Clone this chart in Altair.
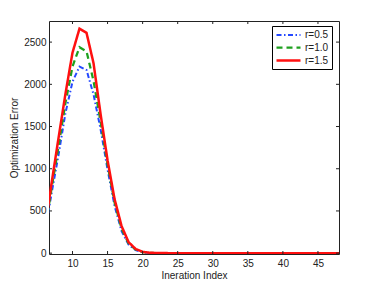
import altair as alt
import pandas as pd

iterations = list(range(6, 49))
r05 = [210, 700, 1160, 1660, 2030, 2210, 2170, 1880, 1470, 990, 560, 260, 100, 36, 10, 3, 1,
       0, 0, 0, 0, 0, 0, 0, 0, 0, 0, 0, 0, 0, 0, 0, 0, 0, 0, 0, 0, 0, 0, 0, 0, 0, 0]
r10 = [230, 760, 1260, 1780, 2210, 2440, 2390, 2040, 1560, 1050, 600, 290, 115, 42, 13, 4, 1,
       0, 0, 0, 0, 0, 0, 0, 0, 0, 0, 0, 0, 0, 0, 0, 0, 0, 0, 0, 0, 0, 0, 0, 0, 0, 0]
r15 = [250, 820, 1360, 1890, 2375, 2660, 2610, 2250, 1650, 1100, 640, 320, 130, 50, 16, 5, 2,
       1, 0, 0, 0, 0, 0, 0, 0, 0, 0, 0, 0, 0, 0, 0, 0, 0, 0, 0, 0, 0, 0, 0, 0, 0, 0]
series_names = ["r=0.5", "r=1.0", "r=1.5"]
series_colors = ["#2448ff", "#1ea01e", "#ff1010"]
series_dash = [[5, 2.5, 1.5, 2.5], [6, 4], [1, 0]]
series_width = [2, 2.5, 2.5]
x_ticks = [10, 15, 20, 25, 30, 35, 40, 45]
y_ticks = [0, 500, 1000, 1500, 2000, 2500]

rows = []
for name, vals in zip(series_names, [r05, r10, r15]):
    for it, v in zip(iterations, vals):
        rows.append({"iter": it, "err": v, "series": name})
df = pd.DataFrame(rows)

W, H = 290, 233
xscale = alt.Scale(domain=[6.65, 48], nice=False, zero=False)
yscale = alt.Scale(domain=[-10, 2750], nice=False, zero=False)
font = "Liberation Sans"

lines = alt.Chart(df).mark_line(clip=True).encode(
    x=alt.X("iter:Q", scale=xscale,
            axis=alt.Axis(values=x_ticks, format="d", ticks=False, domain=False, grid=False,
                          labelPadding=4, title="Ineration Index", titlePadding=2)),
    y=alt.Y("err:Q", scale=yscale,
            axis=alt.Axis(values=y_ticks, format="d", ticks=False, domain=False, grid=False,
                          labelPadding=3, title="Optimization Error", titlePadding=4)),
    color=alt.Color("series:N", scale=alt.Scale(domain=series_names, range=series_colors),
                    legend=alt.Legend(title=None, orient="none", legendX=223, legendY=5,
                                      fillColor="white", strokeColor="black", padding=3,
                                      symbolType="M-1,0H3.8", symbolSize=100, symbolStrokeWidth=2.5,
                                      labelFont=font, labelFontSize=10, labelColor="#222",
                                      rowPadding=1, labelOffset=17)),
    strokeDash=alt.StrokeDash("series:N", scale=alt.Scale(domain=series_names, range=series_dash),
                              legend=None),
    strokeWidth=alt.StrokeWidth("series:N", scale=alt.Scale(domain=series_names, range=series_width),
                                legend=None),
)

xt = pd.DataFrame({"v": x_ticks})
yt = pd.DataFrame({"v": y_ticks})
tick_style = dict(color="#222", strokeWidth=1)
xt_bot = alt.Chart(xt).mark_rule(**tick_style).encode(x=alt.X("v:Q", scale=xscale), y=alt.value(H), y2=alt.value(H - 3))
xt_top = alt.Chart(xt).mark_rule(**tick_style).encode(x=alt.X("v:Q", scale=xscale), y=alt.value(0), y2=alt.value(3))
yt_l = alt.Chart(yt).mark_rule(**tick_style).encode(y=alt.Y("v:Q", scale=yscale), x=alt.value(0), x2=alt.value(3))
yt_r = alt.Chart(yt).mark_rule(**tick_style).encode(y=alt.Y("v:Q", scale=yscale), x=alt.value(W), x2=alt.value(W - 3))

chart = alt.layer(lines, xt_bot, xt_top, yt_l, yt_r).properties(
    width=W, height=H,
    autosize=alt.AutoSizeParams(type="none"),
    padding={"left": 41, "top": 13, "right": 20, "bottom": 30},
).configure_view(stroke="#222", strokeWidth=1).configure_axis(
    labelFont=font, labelFontSize=10, labelColor="#222",
    titleFont=font, titleFontSize=10, titleColor="#222", titleFontWeight="normal",
)

chart.save("out.html", embed_options={"renderer": "svg", "actions": False})
